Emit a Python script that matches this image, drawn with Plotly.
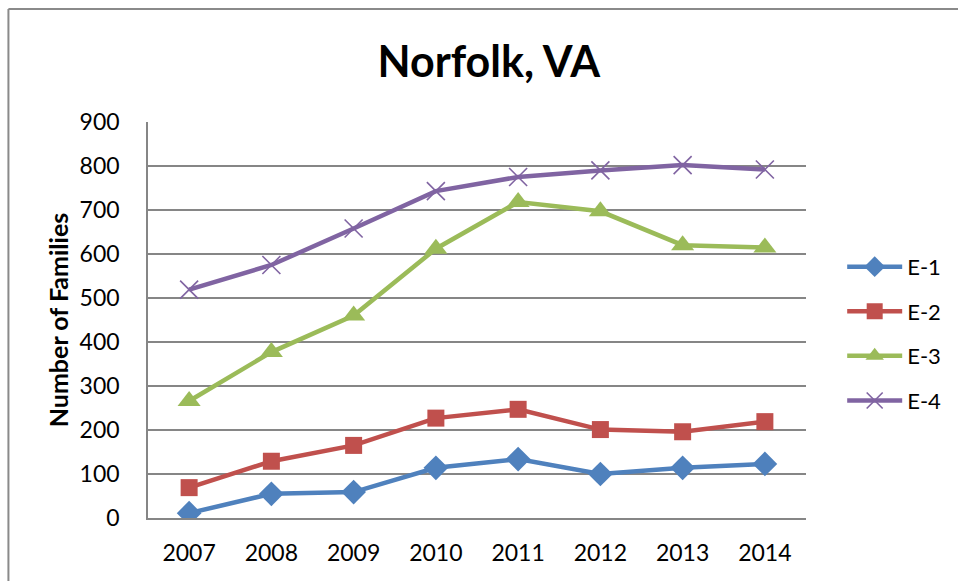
import plotly.graph_objects as go

years = ["2007", "2008", "2009", "2010", "2011", "2012", "2013", "2014"]
e1 = [11, 55, 59, 114, 134, 100, 114, 123]
e2 = [69, 129, 165, 227, 247, 201, 196, 219]
e3 = [266, 377, 460, 612, 718, 697, 620, 615]
e4 = [519, 575, 658, 743, 775, 790, 802, 792]
y_ticks = [0, 100, 200, 300, 400, 500, 600, 700, 800, 900]

FONT = "Lato"
series = [
    ("E-1", e1, "#4F81BD", "diamond", 19, 0),
    ("E-2", e2, "#C0504D", "square", 17, 0),
    ("E-3", e3, "#9BBB59", "triangle-up", 20, 0),
    ("E-4", e4, "#8064A2", "x-thin", 18, 1.6),
]

fig = go.Figure()
for i, (name, vals, col, sym, size, lw) in enumerate(series):
    marker = dict(symbol=sym, size=size, color=col)
    if sym == "x-thin":
        marker["line"] = dict(color=col, width=lw)
    else:
        marker["line"] = dict(width=0)
    fig.add_trace(go.Scatter(
        x=years, y=vals, name=name, mode="lines+markers",
        line=dict(color=col, width=4.5), marker=marker,
        legendgroup=f"g{i}",
    ))

grid = "#868686"
fig.update_layout(
    width=958, height=581,
    margin=dict(l=148, r=150, t=122, b=63),
    paper_bgcolor="white", plot_bgcolor="white",
    font=dict(family=FONT, size=22, color="black"),
    title=dict(text="<b>Norfolk, VA</b>", font=dict(family=FONT, size=43, color="black"),
               x=0.518, xref="paper", xanchor="center",
               y=1 - 62 / 581, yref="container", yanchor="middle"),
    showlegend=True,
    legend=dict(x=1.055, xanchor="left", y=0.465, yanchor="middle",
                font=dict(family=FONT, size=22, color="black"),
                tracegroupgap=13, itemwidth=55, bgcolor="rgba(0,0,0,0)"),
    xaxis=dict(type="category", range=[-0.5, 7.5], showgrid=False,
               showline=True, linecolor=grid, linewidth=1.5, ticks="",
               ticklabelstandoff=14, tickfont=dict(size=23)),
    yaxis=dict(range=[0, 900], tickvals=y_ticks, showgrid=True, gridcolor=grid,
               gridwidth=1.5, showline=True, linecolor=grid, linewidth=1.5,
               ticks="", ticklabelstandoff=22, zeroline=False,
               tickfont=dict(size=23),
               title=dict(text="<b>Number of Families</b>", font=dict(size=25), standoff=4)),
)

bx = (8 - 148) / 660
by = (518 - 9) / 396
fig.add_shape(type="line", xref="paper", yref="paper", x0=bx, x1=bx, y0=-0.3, y1=by,
              line=dict(color="#8a8a8a", width=2))
fig.add_shape(type="line", xref="paper", yref="paper", x0=bx, x1=1.4, y0=by, y1=by,
              line=dict(color="#8a8a8a", width=2))

fig.write_html("out.html", config={"displayModeBar": False},
               post_script="document.body.style.margin='0';document.body.style.overflow='hidden';")
